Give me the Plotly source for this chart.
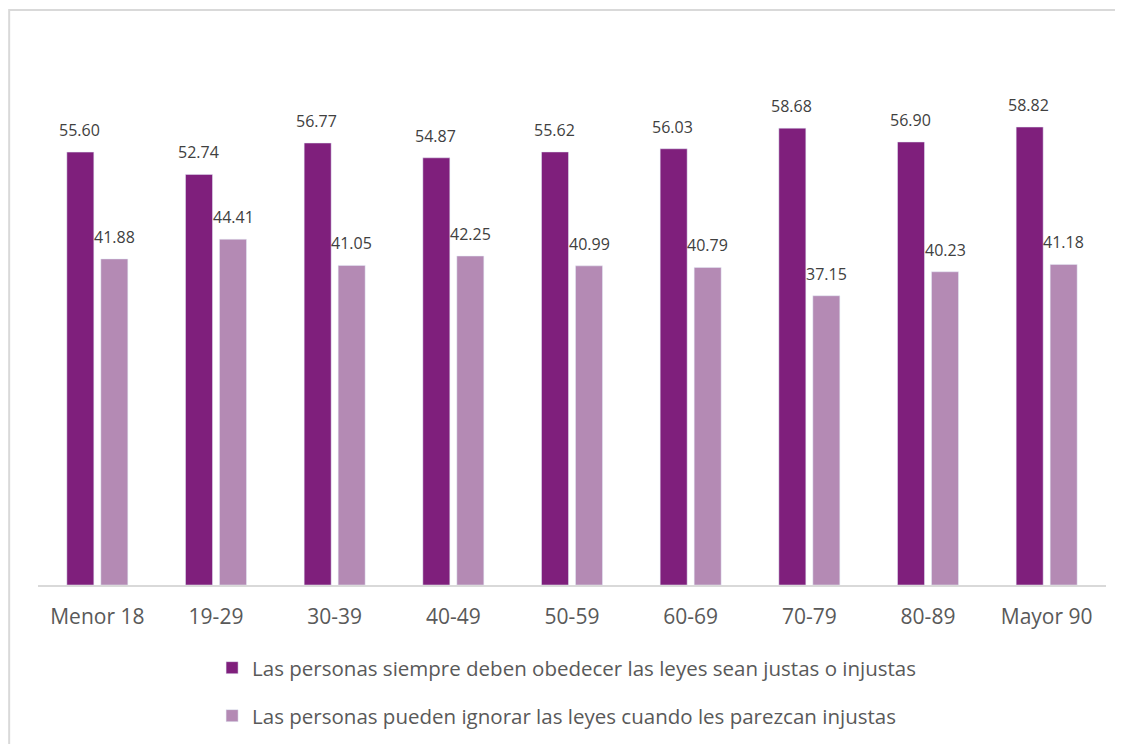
import plotly.graph_objects as go

categories = ["Menor 18", "19-29", "30-39", "40-49", "50-59", "60-69", "70-79", "80-89", "Mayor 90"]
obedecer = [55.60, 52.74, 56.77, 54.87, 55.62, 56.03, 58.68, 56.90, 58.82]
ignorar = [41.88, 44.41, 41.05, 42.25, 40.99, 40.79, 37.15, 40.23, 41.18]
name1 = "Las personas siempre deben obedecer las leyes sean justas o injustas"
name2 = "Las personas pueden ignorar las leyes cuando les parezcan injustas"

c1 = "#7F1F7C"
c2 = "#B48AB4"
font = "Open Sans"

fig = go.Figure()
fig.add_trace(go.Bar(x=categories, y=obedecer, name=name1, marker_color=c1, legend="legend"))
fig.add_trace(go.Bar(x=categories, y=ignorar, name=name2, marker_color=c2, legend="legend2"))

for cat, v in zip(categories, obedecer):
    fig.add_annotation(x=cat, y=v, text=f"{v:.2f}", showarrow=False, xshift=-18, yshift=9,
                       yanchor="bottom", font=dict(family=font, size=16, color="#404040"))
for cat, v in zip(categories, ignorar):
    fig.add_annotation(x=cat, y=v, text=f"{v:.2f}", showarrow=False, xshift=17, yshift=9,
                       yanchor="bottom", font=dict(family=font, size=16, color="#404040"))

fig.add_shape(type="rect", xref="paper", yref="paper", x0=-0.027, x1=1.2, y0=-0.5, y1=1.055,
              line=dict(color="#D9D9D9", width=2), fillcolor="rgba(0,0,0,0)", layer="below")

fig.update_layout(
    width=1123, height=744,
    margin=dict(l=30, r=25, t=32, b=167),
    paper_bgcolor="white", plot_bgcolor="white",
    barmode="group", bargap=0.427, bargroupgap=0.206,
    font=dict(family=font, color="#595959"),
    legend=dict(x=0.163, y=-0.152, xanchor="left", yanchor="middle",
                font=dict(family=font, size=20.5, color="#595959"), bgcolor="rgba(0,0,0,0)"),
    legend2=dict(x=0.163, y=-0.24, xanchor="left", yanchor="middle",
                 font=dict(family=font, size=20.5, color="#595959"), bgcolor="rgba(0,0,0,0)"),
    showlegend=True,
)
fig.update_xaxes(showline=True, linecolor="#D9D9D9", linewidth=2, ticks="",
                 tickfont=dict(family=font, size=21, color="#595959"), showgrid=False,
                 ticklabelstandoff=12)
fig.update_yaxes(range=[0, 70], visible=False, showgrid=False)

fig.write_html("out.html")
